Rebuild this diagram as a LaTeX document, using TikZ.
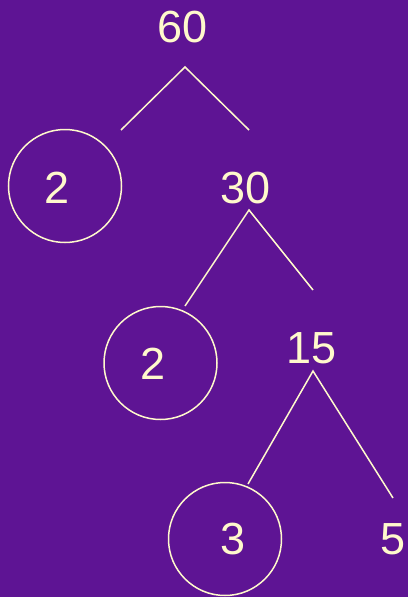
\documentclass[tikz,border=0pt]{standalone}
\usepackage{fontspec}
\setmainfont{Liberation Sans}
\usetikzlibrary{positioning}
\definecolor{treepurple}{HTML}{5E1494}
\definecolor{treecream}{HTML}{FFF9CC}

\begin{document}
\begin{tikzpicture}[
    x=1pt, y=-1pt,
    every node/.style={font=\fontsize{45}{54}\selectfont, text=treecream, inner sep=0pt},
    ring/.style={draw=treecream, line width=1.5pt, circle, minimum size=113pt},
    branch/.style={draw=treecream, line width=1.5pt},
  ]
  % Background
  \fill[treepurple] (0,0) rectangle (408,597);

  % Numbers
  \node (n60) at (183,27) {60};
  \node (n30) at (246,188) {30};
  \node (n15) at (312,348) {15};
  \node (n5) at (393,539) {5};

  % Circled primes
  \node[ring] (c2a) at (65,186) {};
  \node (p2a) at (57,188) {2};
  \node[ring] (c2b) at (160.5,363) {};
  \node (p2b) at (153,364) {2};
  \node[ring] (c3) at (225,539) {};
  \node (p3) at (233,539) {3};

  % Branch ends
  \coordinate (top60) at (185,67);
  \coordinate (l60) at (121,130);
  \coordinate (r60) at (249,130);
  \coordinate (top30) at (249,210);
  \coordinate (l30) at (185,306);
  \coordinate (r30) at (313,290);
  \coordinate (top15) at (313,371);
  \coordinate (l15) at (248,484);
  \coordinate (r15) at (393,498);

  % Branches
  \draw[branch] (l60) -- (top60) -- (r60);
  \draw[branch] (l30) -- (top30) -- (r30);
  \draw[branch] (l15) -- (top15) -- (r15);
\end{tikzpicture}
\end{document}
